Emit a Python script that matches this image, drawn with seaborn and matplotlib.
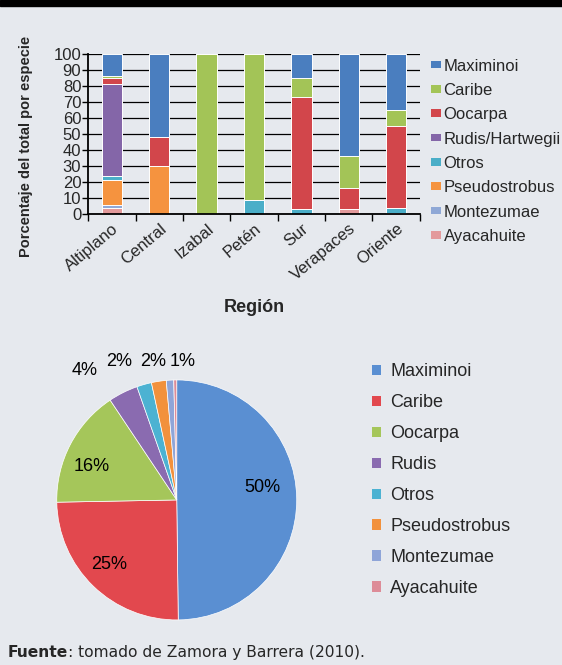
import matplotlib
matplotlib.use("Agg")
import matplotlib.pyplot as plt
from matplotlib.patches import Patch, Rectangle
import numpy as np
import seaborn as sns

# Region bars, species shares (bottom -> top stacking)
regions = ["Altiplano", "Central", "Izabal", "Petén", "Sur", "Verapaces", "Oriente"]
ayacahuite = [4, 0, 0, 0, 0, 3, 1]
montezumae = [2, 0, 0, 0, 0, 0, 0]
pseudostrobus = [15, 30, 0, 0, 0, 0, 0]
otros = [3, 0, 0, 9, 3, 0, 3]
rudis = [57, 0, 0, 0, 0, 0, 0]
oocarpa = [4, 18, 0, 0, 70, 13, 51]
caribe = [1, 0, 100, 91, 12, 20, 10]
maximinoi = [14, 52, 0, 0, 15, 64, 35]

bar_names = ["Ayacahuite", "Montezumae", "Pseudostrobus", "Otros",
             "Rudis/Hartwegii", "Oocarpa", "Caribe", "Maximinoi"]
bar_colors = ["#e39a9c", "#8fa8d6", "#f5933f", "#4aaec8",
              "#8466a8", "#d2464b", "#a3c457", "#4a7ebf"]

# Pie, national totals
pie_species = ["Maximinoi", "Caribe", "Oocarpa", "Rudis", "Otros",
               "Pseudostrobus", "Montezumae", "Ayacahuite"]
pie_values = [50, 25, 16, 4, 2, 2, 1, 0.4]
pie_colors = ["#5a8fd2", "#e2484e", "#a5c65a", "#8a6bb0",
              "#4cb2d2", "#f2913c", "#8fa5d8", "#dd8c98"]

bg = "#e6e9ee"
sns.set_theme(style="white")
plt.rcParams["font.family"] = ["Liberation Sans", "DejaVu Sans"]

fig = plt.figure(figsize=(5.62, 6.65), dpi=100, facecolor=bg)
fig.patches.append(Rectangle((0, 0.991), 1, 0.009, transform=fig.transFigure,
                             color="black", zorder=5))

# stacked bars
ax = fig.add_axes([0.157, 0.678, 0.590, 0.241])
ax.set_facecolor(bg)
layers = [ayacahuite, montezumae, pseudostrobus, otros, rudis, oocarpa, caribe, maximinoi]
cum = np.zeros(len(regions))
tops = []
for vals in layers:
    cum = cum + np.array(vals, dtype=float)
    tops.append(cum.copy())
for heights, col in reversed(list(zip(tops, bar_colors))):
    sns.barplot(x=regions, y=heights, color=col, saturation=1, width=0.43,
                edgecolor="white", linewidth=0.7, zorder=3, ax=ax)

ax.set_xlim(-0.5, 6.5)
ax.set_ylim(0, 100)
ax.set_yticks(range(0, 101, 10))
ax.yaxis.grid(True, color="black", linewidth=0.9)
ax.set_axisbelow(True)
ax.set_xticks(np.arange(-0.5, 7, 1), minor=True)
ax.tick_params(axis="x", which="major", length=0, labelsize=12, pad=5)
ax.tick_params(axis="x", which="minor", length=5, width=1, color="black", bottom=True)
ax.tick_params(axis="y", length=4, width=1, color="black", left=True, labelsize=12, pad=1)
plt.setp(ax.get_xticklabels(), rotation=40, ha="right", rotation_mode="anchor")
for s in ["top", "right"]:
    ax.spines[s].set_visible(False)
for s in ["left", "bottom"]:
    ax.spines[s].set_color("black")
    ax.spines[s].set_linewidth(1.3)
    ax.spines[s].set_zorder(6)

ax.set_ylabel("Porcentaje del total por especie", fontsize=10.5, fontweight="bold")
ax.yaxis.set_label_coords(-0.166, 0.42)
ax.set_xlabel("Región", fontsize=13, fontweight="bold")
ax.xaxis.set_label_coords(0.5, -0.53)

bar_handles = [Patch(facecolor=c, edgecolor="none") for c in reversed(bar_colors)]
fig.legend(bar_handles, list(reversed(bar_names)), loc="upper left",
           bbox_to_anchor=(0.767, 0.912), frameon=False, fontsize=12,
           handlelength=0.6, handleheight=0.35, handletextpad=0.15,
           labelspacing=0.56, borderpad=0, borderaxespad=0)

# pie
ax2 = fig.add_axes([0.101, 0.0677, 0.427, 0.361])
wedges, texts, autotexts = ax2.pie(
    pie_values, colors=pie_colors, startangle=90, counterclock=False,
    autopct="%.0f%%", pctdistance=0.76,
    wedgeprops=dict(edgecolor="white", linewidth=0.5),
    textprops=dict(fontsize=13, color="black"))
ax2.set_xlim(-1, 1)
ax2.set_ylim(-1, 1)
label_pos = [(0.71, 0.1), (-0.56, -0.54), (-0.71, 0.275),
             (-0.77, 1.08), (-0.48, 1.15), (-0.2, 1.15), (0.05, 1.15)]
for t, p in zip(autotexts, label_pos):
    t.set_position(p)
autotexts[7].set_text("")

pie_handles = [Patch(facecolor=c, edgecolor="none") for c in pie_colors]
fig.legend(pie_handles, pie_species, loc="upper left",
           bbox_to_anchor=(0.662, 0.4534), frameon=False, fontsize=13,
           handlelength=0.5, handleheight=0.5, handletextpad=0.5,
           labelspacing=0.77, borderpad=0, borderaxespad=0)

# source line
fig.canvas.draw()
t1 = fig.text(0.014, 0.0195, "Fuente", fontsize=11.2, fontweight="bold",
              family="DejaVu Sans", va="center")
bb = t1.get_window_extent(fig.canvas.get_renderer())
fig.text(bb.x1 / fig.bbox.width, 0.0195, ": tomado de Zamora y Barrera (2010).",
         fontsize=11.2, family="DejaVu Sans", va="center")

fig.savefig("out.png", dpi=100, facecolor=bg)
